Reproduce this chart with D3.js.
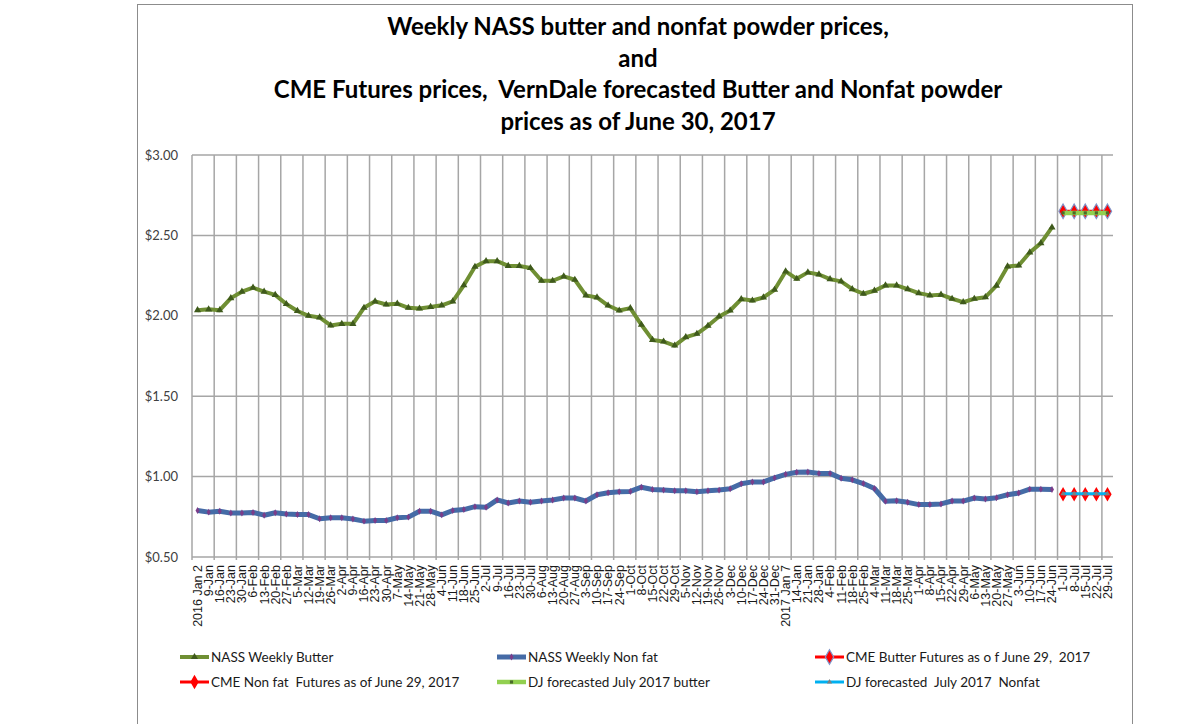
<!DOCTYPE html>
<html>
<head>
<meta charset="utf-8">
<script src="https://cdn.jsdelivr.net/npm/d3@7"></script>
<style>
  body { margin: 0; background: #fff; }
  svg { display: block; }
</style>
</head>
<body>
<div id="chart"></div>
<script>
// chart size and plot box
const WIDTH = 1178;
const HEIGHT = 724;
const PLOT = { left: 192, right: 1113, top: 155, bottom: 557 };

// weekly categories, 2016 Jan 2 -> 2017 Jul 29
const weeks = [
  "2016 Jan 2", "9-Jan", "16-Jan", "23-Jan", "30-Jan", "6-Feb", "13-Feb", "20-Feb", "27-Feb",
  "5-Mar", "12-Mar", "19-Mar", "26-Mar", "2-Apr", "9-Apr", "16-Apr", "23-Apr", "30-Apr",
  "7-May", "14-May", "21-May", "28-May", "4-Jun", "11-Jun", "18-Jun", "25-Jun", "2-Jul",
  "9-Jul", "16-Jul", "23-Jul", "30-Jul", "6-Aug", "13-Aug", "20-Aug", "27-Aug", "3-Sep",
  "10-Sep", "17-Sep", "24-Sep", "1-Oct", "8-Oct", "15-Oct", "22-Oct", "29-Oct", "5-Nov",
  "12-Nov", "19-Nov", "26-Nov", "3-Dec", "10-Dec", "17-Dec", "24-Dec", "31-Dec",
  "2017 Jan 7", "14-Jan", "21-Jan", "28-Jan", "4-Feb", "11-Feb", "18-Feb", "25-Feb",
  "4-Mar", "11-Mar", "18-Mar", "25-Mar", "1-Apr", "8-Apr", "15-Apr", "22-Apr", "29-Apr",
  "6-May", "13-May", "20-May", "27-May", "3-Jun", "10-Jun", "17-Jun", "24-Jun",
  "1-Jul", "8-Jul", "15-Jul", "22-Jul", "29-Jul"
];

// NASS weekly prices ($/lb), 2016 Jan 2 -> 2017 Jun 24
const nassButter = [
  2.035, 2.04, 2.035, 2.11, 2.15, 2.175, 2.15, 2.13, 2.073, 2.03, 2.0, 1.99, 1.94, 1.95, 1.95,
  2.05, 2.09, 2.07, 2.075, 2.05, 2.045, 2.055, 2.065, 2.09, 2.19, 2.305, 2.34, 2.34, 2.31, 2.31,
  2.297, 2.218, 2.218, 2.245, 2.224, 2.127, 2.114, 2.064, 2.033, 2.048, 1.944, 1.85, 1.84, 1.815,
  1.867, 1.888, 1.938, 1.996, 2.033, 2.104, 2.095, 2.114, 2.162, 2.276, 2.23, 2.27, 2.257, 2.228,
  2.214, 2.166, 2.137, 2.156, 2.189, 2.189, 2.166, 2.141, 2.127, 2.131, 2.106, 2.085, 2.106,
  2.116, 2.187, 2.307, 2.313, 2.394, 2.452, 2.55
];
const nassNonfat = [
  0.789, 0.779, 0.785, 0.773, 0.773, 0.777, 0.76, 0.775, 0.768, 0.764, 0.764, 0.738, 0.744, 0.744,
  0.736, 0.723, 0.727, 0.727, 0.744, 0.748, 0.785, 0.785, 0.762, 0.789, 0.795, 0.813, 0.809, 0.855,
  0.836, 0.848, 0.84, 0.848, 0.855, 0.867, 0.867, 0.848, 0.887, 0.9, 0.906, 0.908, 0.934, 0.92,
  0.916, 0.912, 0.912, 0.906, 0.912, 0.916, 0.924, 0.955, 0.967, 0.967, 0.992, 1.014, 1.027, 1.029,
  1.02, 1.02, 0.99, 0.98, 0.957, 0.926, 0.846, 0.85, 0.84, 0.826, 0.826, 0.83, 0.848, 0.848, 0.867,
  0.861, 0.869, 0.887, 0.898, 0.922, 0.922, 0.92
];

// July 2017 futures / forecasts
const forecastWeeks = ["1-Jul", "8-Jul", "15-Jul", "22-Jul", "29-Jul"];
const cmeButter = [2.65, 2.65, 2.65, 2.65, 2.65];
const djButter = [2.64, 2.64, 2.64, 2.64, 2.64];
const cmeNonfat = [0.89, 0.89, 0.89, 0.89, 0.89];
const djNonfat = [0.893, 0.893, 0.893, 0.893, 0.893];

const yTicks = [0.5, 1.0, 1.5, 2.0, 2.5, 3.0];

const titleLines = [
  "Weekly NASS butter and nonfat powder prices,",
  "and",
  "CME Futures prices,  VernDale forecasted Butter and Nonfat powder",
  "prices as of June 30, 2017"
];

const FONT = "Lato, 'Open Sans', sans-serif";

const svg = d3.select("#chart").append("svg")
  .attr("width", WIDTH)
  .attr("height", HEIGHT);

// outer chart border
svg.append("rect")
  .attr("x", 137.5).attr("y", 4.5)
  .attr("width", 995).attr("height", 760)
  .attr("fill", "none")
  .attr("stroke", "#8c8c8c")
  .attr("stroke-width", 1);

// title
svg.append("g").selectAll("text")
  .data(titleLines)
  .enter()
  .append("text")
  .attr("x", 638)
  .attr("y", (d, i) => 35 + i * 31.7)
  .attr("text-anchor", "middle")
  .style("white-space", "pre")
  .style("font-family", FONT)
  .style("font-weight", "bold")
  .style("font-size", "24px")
  .style("fill", "#000")
  .text(d => d);

// scales
const x = d3.scaleBand()
  .domain(weeks)
  .range([PLOT.left, PLOT.right])
  .padding(0);
const cx = d => x(d) + x.bandwidth() / 2;

const y = d3.scaleLinear()
  .domain([0.5, 3.0])
  .range([PLOT.bottom, PLOT.top]);

// horizontal grid
svg.append("g").selectAll("line")
  .data(yTicks)
  .enter()
  .append("line")
  .attr("x1", PLOT.left).attr("x2", PLOT.right)
  .attr("y1", d => y(d)).attr("y2", d => y(d))
  .attr("stroke", "#a6a6a6")
  .attr("stroke-width", 1.5);

// vertical grid, every second week
svg.append("g").selectAll("line")
  .data(weeks.filter((d, i) => i % 2 === 0))
  .enter()
  .append("line")
  .attr("x1", d => x(d)).attr("x2", d => x(d))
  .attr("y1", PLOT.top).attr("y2", PLOT.bottom + 3)
  .attr("stroke", "#a6a6a6")
  .attr("stroke-width", 1.5);

// y labels
const yAxis = svg.append("g")
  .attr("transform", "translate(" + PLOT.left + ",0)")
  .call(d3.axisLeft(y).tickValues(yTicks).tickSize(0).tickPadding(14)
    .tickFormat(d3.format("$.2f")));
yAxis.select(".domain").remove();
yAxis.selectAll("text")
  .style("font-family", FONT)
  .style("font-size", "13px")
  .style("fill", "#404040");

// x labels, rotated
const xAxis = svg.append("g")
  .attr("transform", "translate(0," + PLOT.bottom + ")")
  .call(d3.axisBottom(x).tickSize(0).tickPadding(0));
xAxis.select(".domain").remove();
xAxis.selectAll("text")
  .attr("transform", "rotate(-90)")
  .attr("x", -8)
  .attr("y", 0)
  .attr("dy", "0.35em")
  .attr("text-anchor", "end")
  .style("font-family", "'Liberation Sans', Arial, sans-serif")
  .style("font-size", "12.5px")
  .style("fill", "#1a1a1a");

// marker shapes
const triangle = d3.symbol().type(d3.symbolTriangle);
const diamond = d3.symbol().type(d3.symbolDiamond);

function drawSeries(cats, values, style) {
  const pts = cats.map((c, i) => ({ c: c, v: values[i] }));
  const g = svg.append("g");
  g.append("path")
    .datum(pts)
    .attr("fill", "none")
    .attr("stroke", style.color)
    .attr("stroke-width", style.width)
    .attr("stroke-linejoin", "round")
    .attr("d", d3.line().x(d => cx(d.c)).y(d => y(d.v)));
  g.selectAll("path.m")
    .data(pts)
    .enter()
    .append("path")
    .attr("class", "m")
    .attr("transform", d => "translate(" + cx(d.c) + "," + y(d.v) + ")")
    .attr("d", style.shape.size(style.size)())
    .attr("fill", style.mfill)
    .attr("stroke", style.mstroke || "none")
    .attr("stroke-width", style.mstrokeW || 0);
}

const histWeeks = weeks.slice(0, nassButter.length);

const styles = {
  nassButter: { color: "#6f8f33", width: 4, shape: triangle, size: 22, mfill: "#3f5a1c" },
  nassNonfat: { color: "#456ba6", width: 5, shape: diamond, size: 14, mfill: "#7a3d8a" },
  cmeButter: { color: "#ff0000", width: 3, shape: diamond, size: 60, mfill: "#ff0000", mstroke: "#7f93c9", mstrokeW: 1.2 },
  cmeNonfat: { color: "#ff0000", width: 2, shape: diamond, size: 60, mfill: "#ff0000" },
  djButter: { color: "#92d050", width: 4.5, shape: d3.symbol().type(d3.symbolSquare), size: 10, mfill: "#4a6b2a" },
  djNonfat: { color: "#00b0f0", width: 3, shape: triangle, size: 12, mfill: "#7f7f7f" }
};

drawSeries(histWeeks, nassButter, styles.nassButter);
drawSeries(histWeeks, nassNonfat, styles.nassNonfat);
drawSeries(forecastWeeks, cmeButter, styles.cmeButter);
drawSeries(forecastWeeks, cmeNonfat, styles.cmeNonfat);
drawSeries(forecastWeeks, djButter, styles.djButter);
drawSeries(forecastWeeks, djNonfat, styles.djNonfat);

// legend
const legendItems = [
  { label: "NASS Weekly Butter", s: styles.nassButter, col: 0, row: 0 },
  { label: "NASS Weekly Non fat", s: styles.nassNonfat, col: 1, row: 0 },
  { label: "CME Butter Futures as o f June 29,  2017", s: styles.cmeButter, col: 2, row: 0 },
  { label: "CME Non fat  Futures as of June 29, 2017", s: styles.cmeNonfat, col: 0, row: 1 },
  { label: "DJ forecasted July 2017 butter", s: styles.djButter, col: 1, row: 1 },
  { label: "DJ forecasted  July 2017  Nonfat", s: styles.djNonfat, col: 2, row: 1 }
];
const legendCols = [180, 497, 815];
const legendRows = [657, 682];

const lg = svg.append("g").selectAll("g")
  .data(legendItems)
  .enter()
  .append("g")
  .attr("transform", d => "translate(" + legendCols[d.col] + "," + legendRows[d.row] + ")");

lg.append("line")
  .attr("x1", 0).attr("x2", 29)
  .attr("stroke", d => d.s.color)
  .attr("stroke-width", d => Math.max(d.s.width, 3));
lg.append("path")
  .attr("transform", "translate(14.5,0)")
  .attr("d", d => d.s.shape.size(d.s.size)())
  .attr("fill", d => d.s.mfill)
  .attr("stroke", d => d.s.mstroke || "none")
  .attr("stroke-width", d => d.s.mstrokeW || 0);
lg.append("text")
  .attr("x", 31)
  .attr("dy", "0.35em")
  .style("white-space", "pre")
  .style("font-family", FONT)
  .style("font-size", "13.5px")
  .style("fill", "#1a1a1a")
  .text(d => d.label);
</script>
</body>
</html>
